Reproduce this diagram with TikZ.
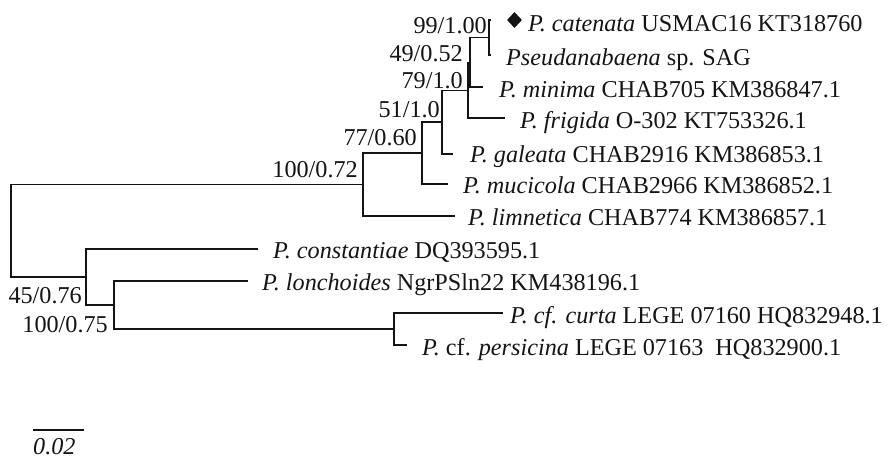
\documentclass[tikz,border=0pt]{standalone}
\usepackage{fontspec}
\setmainfont{Liberation Serif}
\usetikzlibrary{calc,shapes.geometric}
\begin{document}
\begin{tikzpicture}[x=1pt,y=-1pt,
  br/.style={draw=black!92, line width=1.4pt, line join=miter},
  lbl/.style={anchor=base west, inner sep=0pt, text=black!92, font=\fontsize{24.2}{28}\selectfont},
  bsup/.style={anchor=base east, inner sep=0pt, text=black!92, font=\fontsize{24.2}{28}\selectfont}]
\useasboundingbox (0,0) rectangle (890,460);
% internal nodes
\coordinate (R) at (11,230.75);
\coordinate (A) at (363,184.5);
\coordinate (B) at (422,153);
\coordinate (C) at (442,122.1);
\coordinate (D) at (468,90.25);
\coordinate (E) at (470,62.5);
\coordinate (F) at (489,37.5);
\coordinate (G) at (86,277);
\coordinate (H) at (114,305);
\coordinate (I) at (394,329);
% leaves
\coordinate (cat) at (491,20);
\coordinate (pse) at (491,55);
\coordinate (min) at (483,87);
\coordinate (fri) at (505,118);
\coordinate (gal) at (453,154);
\coordinate (muc) at (448,184);
\coordinate (lim) at (455,216);
\coordinate (con) at (258,249);
\coordinate (lon) at (248,281);
\coordinate (cur) at (503,313);
\coordinate (per) at (407,345);
% branches
\draw[br] (R) |- (A);
\draw[br] (R) |- (G);
\draw[br] (A) |- (B);
\draw[br] (A) |- (lim);
\draw[br] (B) |- (C);
\draw[br] (B) |- (muc);
\draw[br] (C) |- (D);
\draw[br] (C) |- (gal);
\draw[br] (D) |- (E);
\draw[br] (D) |- (fri);
\draw[br] (E) |- (F);
\draw[br] (E) |- (min);
\draw[br] (F) |- (cat);
\draw[br] (F) |- (pse);
\draw[br] (G) |- (con);
\draw[br] (G) |- (H);
\draw[br] (H) |- (lon);
\draw[br] (H) |- (I);
\draw[br] (I) |- (cur);
\draw[br] (I) |- (per);
% leaf labels
\node[diamond, fill=black!92, inner sep=0pt, minimum width=15pt, minimum height=16pt] (dia) at ($(cat)+(23.5,0)$) {};
\node[lbl] (tcat) at ($(cat)+(37,12)$) {\textit{P. catenata} USMAC16 KT318760};
\node[lbl] (tpse) at ($(pse)+(15,10)$) {\textit{Pseudanabaena} sp. SAG};
\node[lbl] (tmin) at ($(min)+(16,10)$) {\textit{P. minima} CHAB705 KM386847.1};
\node[lbl] (tfri) at ($(fri)+(15,10)$) {\textit{P. frigida} O-302 KT753326.1};
\node[lbl] (tgal) at ($(gal)+(17,8)$) {\textit{P. galeata} CHAB2916 KM386853.1};
\node[lbl] (tmuc) at ($(muc)+(15,9)$) {\textit{P. mucicola} CHAB2966 KM386852.1};
\node[lbl] (tlim) at ($(lim)+(13,9)$) {\textit{P. limnetica} CHAB774 KM386857.1};
\node[lbl] (tcon) at ($(con)+(15,9)$) {\textit{P. constantiae} DQ393595.1};
\node[lbl] (tlon) at ($(lon)+(14,9)$) {\textit{P. lonchoides} NgrPSln22 KM438196.1};
\node[lbl] (tcur) at ($(cur)+(7,10)$) {\textit{P. cf. curta} LEGE 07160 HQ832948.1};
\node[lbl] (tper) at ($(per)+(15,10)$) {\textit{P.} cf. \textit{persicina} LEGE 07163\ \ HQ832900.1};
% support values
\node[bsup] (sF) at ($(F)+(-2,-3.5)$) {99/1.00};
\node[bsup] (sE) at ($(E)+(-7,-0.5)$) {49/0.52};
\node[bsup] (sD) at ($(D)+(-5,-2)$) {79/1.0};
\node[bsup] (sC) at ($(C)+(-2,-5)$) {51/1.0};
\node[bsup] (sB) at ($(B)+(-5,-8)$) {77/0.60};
\node[bsup] (sA) at ($(A)+(-5,-7.5)$) {100/0.72};
\node[bsup] (sG) at ($(G)+(-4,26)$) {45/0.76};
\node[bsup] (sH) at ($(H)+(-6,27)$) {100/0.75};
% scale bar
\coordinate (s1) at (33,430);
\coordinate (s2) at (84,430);
\draw[br] (s1) -- (s2);
\node[lbl] (sbar) at (33,454) {\textit{0.02}};
\end{tikzpicture}
\end{document}
